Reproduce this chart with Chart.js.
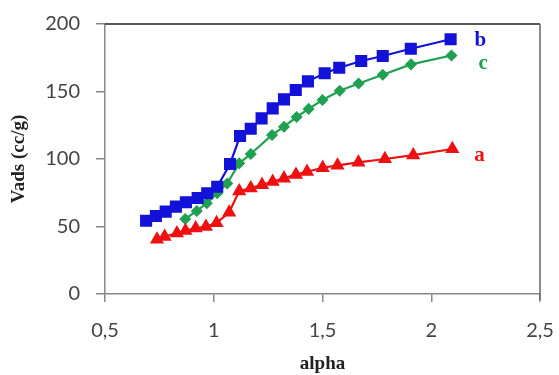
<!DOCTYPE html>
<html>
<head>
<meta charset="utf-8">
<script src="https://cdn.jsdelivr.net/npm/chart.js@4.4.1/dist/chart.umd.min.js"></script>
<style>
  body { margin: 0; background: #fff; }
  canvas { display: block; }
</style>
</head>
<body>
<canvas id="isoChart" width="559" height="375"></canvas>
<script>
// Series data
const alphaA = [0.739, 0.774, 0.831, 0.870, 0.917, 0.964, 1.013, 1.071, 1.117, 1.170, 1.222, 1.271, 1.323, 1.378, 1.429, 1.501, 1.569, 1.665, 1.787, 1.917, 2.097];
const vadsA  = [40.5, 42.5, 45.0, 46.9, 48.7, 49.9, 52.6, 60.5, 76.2, 78.4, 80.9, 83.2, 85.7, 88.4, 90.6, 93.5, 95.3, 97.5, 100.0, 102.9, 107.4];

const alphaB = [0.689, 0.734, 0.779, 0.826, 0.872, 0.926, 0.970, 1.016, 1.075, 1.121, 1.170, 1.220, 1.271, 1.323, 1.377, 1.433, 1.510, 1.577, 1.678, 1.777, 1.906, 2.089];
const vadsB  = [54.3, 57.8, 61.0, 64.7, 68.0, 71.1, 74.6, 79.5, 96.3, 117.0, 122.4, 130.1, 137.5, 144.2, 151.1, 157.5, 163.5, 167.6, 172.6, 176.3, 181.7, 188.7];

const alphaC = [0.869, 0.922, 0.968, 1.016, 1.062, 1.117, 1.170, 1.268, 1.323, 1.381, 1.436, 1.500, 1.579, 1.666, 1.777, 1.907, 2.093];
const vadsC  = [55.6, 61.5, 67.2, 74.6, 81.9, 96.8, 103.7, 117.8, 123.9, 131.1, 137.1, 143.7, 150.6, 155.9, 162.4, 170.1, 176.7];

const seriesNames = ['a', 'b', 'c'];
const xTicks = [0.5, 1, 1.5, 2, 2.5];
const yTicks = [0, 50, 100, 150, 200];

function toPoints(xs, ys) {
    return xs.map((x, i) => ({ x: x, y: ys[i] }));
}

// frame on top / right of the plot area
const frame = {
    id: 'frame',
    afterDraw(chart) {
        const { ctx, chartArea: a } = chart;
        ctx.save();
        ctx.lineWidth = 1.5;
        ctx.strokeStyle = '#222';
        ctx.beginPath();
        ctx.moveTo(a.left, a.top);
        ctx.lineTo(a.right, a.top);
        ctx.stroke();
        ctx.strokeStyle = '#666';
        ctx.beginPath();
        ctx.moveTo(a.right, a.top);
        ctx.lineTo(a.right, a.bottom + 6);
        ctx.stroke();
        ctx.restore();
    }
};

// series letters next to the last point of each curve
const endLabels = {
    id: 'endLabels',
    afterDatasetsDraw(chart) {
        const ctx = chart.ctx;
        ctx.save();
        ctx.font = 'bold 21px "Liberation Serif", serif';
        ctx.textBaseline = 'middle';
        ctx.textAlign = 'left';
        chart.data.datasets.forEach((ds, i) => {
            const meta = chart.getDatasetMeta(i);
            const last = meta.data[meta.data.length - 1];
            ctx.fillStyle = ds.borderColor;
            ctx.fillText(ds.label, last.x + ds.labelDx, last.y + ds.labelDy);
        });
        ctx.restore();
    }
};

const tickFont = { family: 'Lato, "Open Sans", sans-serif', size: 20 };
const titleFont = { family: '"Liberation Serif", serif', size: 19, weight: 'bold' };

const ctx = document.getElementById('isoChart').getContext('2d');
const chart = new Chart(ctx, {
    type: 'line',
    data: {
        datasets: [{
            label: seriesNames[0],
            data: toPoints(alphaA, vadsA),
            borderColor: '#ee1111',
            backgroundColor: '#ee1111',
            borderWidth: 2.2,
            pointStyle: 'triangle',
            pointRadius: 6,
            labelDx: 22, labelDy: 7
        }, {
            label: seriesNames[1],
            data: toPoints(alphaB, vadsB),
            borderColor: '#1212d8',
            backgroundColor: '#1212d8',
            borderWidth: 2.2,
            pointStyle: 'rect',
            pointRadius: 7,
            labelDx: 24, labelDy: 1
        }, {
            label: seriesNames[2],
            data: toPoints(alphaC, vadsC),
            borderColor: '#20a050',
            backgroundColor: '#20a050',
            borderWidth: 2.2,
            pointStyle: 'rectRot',
            pointRadius: 4.5,
            labelDx: 27, labelDy: 8
        }]
    },
    options: {
        responsive: false,
        animation: false,
        layout: { padding: { left: 0, right: 19, top: 24, bottom: 0 } },
        plugins: {
            legend: { display: false },
            tooltip: { enabled: false }
        },
        scales: {
            x: {
                type: 'linear',
                min: 0.5,
                max: 2.5,
                afterFit(scale) {
                    scale.height = 81;
                    scale.paddingLeft = 0;
                    scale.paddingRight = 0;
                },
                afterBuildTicks(scale) { scale.ticks = xTicks.map(v => ({ value: v })); },
                border: { color: '#888', width: 1.5 },
                grid: { drawOnChartArea: false, color: '#888', tickLength: 8, lineWidth: 1.5 },
                ticks: {
                    padding: 17,
                    color: '#444',
                    font: tickFont,
                    callback: v => String(v).replace('.', ',')
                },
                title: {
                    display: true,
                    text: 'alpha',
                    color: '#222',
                    font: titleFont,
                    padding: { top: 0, bottom: 0 }
                }
            },
            y: {
                min: 0,
                max: 200,
                afterFit(scale) {
                    scale.width = 105;
                    scale.paddingTop = 0;
                    scale.paddingBottom = 0;
                },
                afterBuildTicks(scale) { scale.ticks = yTicks.map(v => ({ value: v })); },
                border: { color: '#888', width: 1.5 },
                grid: { drawOnChartArea: false, color: '#888', tickLength: 9, lineWidth: 1.5 },
                ticks: {
                    padding: 16,
                    color: '#444',
                    font: tickFont
                },
                title: {
                    display: true,
                    text: 'Vads (cc/g)',
                    color: '#222',
                    font: titleFont,
                    padding: { top: 8, bottom: 0 }
                }
            }
        }
    },
    plugins: [frame, endLabels]
});
</script>
</body>
</html>
